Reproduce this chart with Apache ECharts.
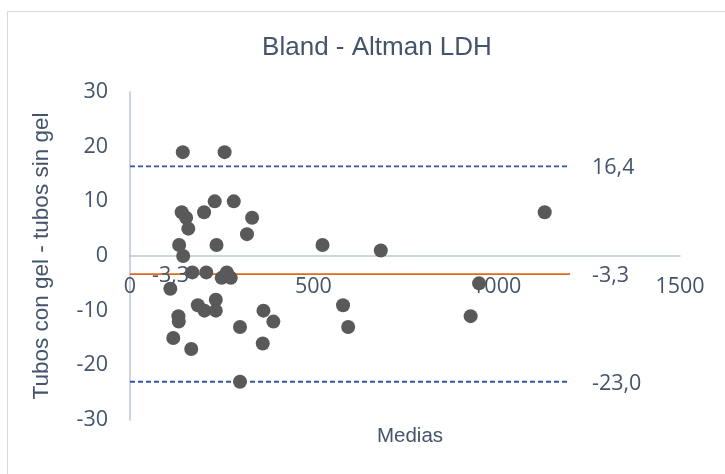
<!DOCTYPE html>
<html>
<head>
<meta charset="utf-8">
<script src="https://cdn.jsdelivr.net/npm/echarts@6/dist/echarts.min.js"></script>
<style>
  html, body { margin: 0; padding: 0; background: #ffffff; }
  #chart { width: 725px; height: 474px; }
</style>
</head>
<body>
<div id="chart"></div>
<script>
// Mean of the two measurements (x) and their difference (y), one entry per sample
const medias = [144, 258, 231, 283, 141, 153, 202, 333, 159, 319, 134, 236, 525, 684, 145,
                170, 208, 264, 250, 275, 110, 185, 234, 203, 234, 132, 133, 364, 391, 581,
                595, 300, 118, 167, 362, 300, 1131, 952, 929];
const diferencias = [19, 19, 10, 10, 8, 7, 8, 7, 5, 4, 2, 2, 2, 1, 0,
                     -3, -3, -3, -4, -4, -6, -9, -8, -10, -10, -11, -12, -10, -12, -9,
                     -13, -13, -15, -17, -16, -23, 8, -5, -11];

// Reference lines: mean difference and limits of agreement
const lineaX = [0, 1200];
const media = -3.3;
const limiteSup = 16.4;
const limiteInf = -23.0;

const xTicks = [0, 500, 1000, 1500];
const yTicks = [-30, -20, -10, 0, 10, 20, 30];

const textColor = '#44546a';
const tickFont = 'Open Sans';
const tickSize = 21.5;
const fmt = v => v.toFixed(1).replace('.', ',');

const gridTop = 92, gridBottom = 54, chartHeight = 474;

const refLabel = {
  show: true,
  position: 'right',
  distance: 22,
  offset: [0, 2],
  color: textColor,
  fontFamily: tickFont,
  fontSize: tickSize,
  formatter: p => fmt(p.value[1])
};

function refLine(value, color, type, labelFirst) {
  return {
    type: 'line',
    data: lineaX.map((x, i) => ({
      value: [x, value],
      label: (i === lineaX.length - 1 || labelFirst) ? refLabel : { show: false }
    })),
    symbol: 'circle',
    symbolSize: 0,
    showSymbol: true,
    itemStyle: { color: 'rgba(0,0,0,0)', borderWidth: 0 },
    lineStyle: { color: color, width: 1.8, type: type },
    silent: true,
    animation: false,
    z: 1
  };
}

// The horizontal axis sits on y = 0; shift it up from the bottom of the grid
const plotHeight = chartHeight - gridTop - gridBottom;
const yMin = yTicks[0], yMax = yTicks[yTicks.length - 1];
const zeroOffset = -plotHeight * (0 - yMin) / (yMax - yMin);

const chart = echarts.init(document.getElementById('chart'));
chart.setOption({
  backgroundColor: '#ffffff',
  animation: false,
  title: [
    {
      text: 'Bland - Altman LDH',
      left: 372, top: 30, textAlign: 'center',
      textStyle: { color: textColor, fontFamily: 'Liberation Sans', fontSize: 26, fontWeight: 'normal' }
    },
    {
      text: 'Medias',
      left: 405, top: 421, textAlign: 'center',
      textStyle: { color: textColor, fontFamily: 'Liberation Sans', fontSize: 20.5, fontWeight: 'normal' }
    }
  ],
  graphic: [{
    type: 'rect',
    shape: { x: 7.5, y: 11.5, width: 760, height: 500 },
    style: { fill: 'none', stroke: '#d9d9d9', lineWidth: 1 },
    silent: true
  }],
  grid: { left: 130, right: 45, top: gridTop, bottom: gridBottom },
  xAxis: {
    type: 'value',
    position: 'bottom',
    offset: zeroOffset,
    min: xTicks[0], max: xTicks[xTicks.length - 1], interval: 500,
    axisLine: { show: true, onZero: false, lineStyle: { color: '#bcc6d6', width: 1.5 } },
    axisTick: { show: false },
    splitLine: { show: false },
    axisLabel: { color: textColor, fontFamily: tickFont, fontSize: tickSize, margin: 20, formatter: v => String(v) }
  },
  yAxis: {
    type: 'value',
    min: yMin, max: yMax, interval: 10,
    name: 'Tubos con gel - tubos sin gel',
    nameLocation: 'middle',
    nameGap: 77,
    nameTextStyle: { color: textColor, fontFamily: 'Liberation Sans', fontSize: 22.5 },
    axisLine: { show: true, onZero: false, lineStyle: { color: '#bcc6d6', width: 1.5 } },
    axisTick: { show: false },
    splitLine: { show: false },
    axisLabel: { color: textColor, fontFamily: tickFont, fontSize: tickSize, margin: 22, formatter: v => String(v) }
  },
  series: [
    refLine(limiteSup, '#2f55a0', [5, 3], false),
    refLine(limiteInf, '#2f55a0', [5, 3], false),
    refLine(media, '#dd6a1f', 'solid', true),
    {
      type: 'scatter',
      data: medias.map((x, i) => [x, diferencias[i]]),
      symbol: 'circle',
      symbolSize: 14,
      itemStyle: { color: '#595959', opacity: 1 },
      z: 3
    }
  ]
});
</script>
</body>
</html>
